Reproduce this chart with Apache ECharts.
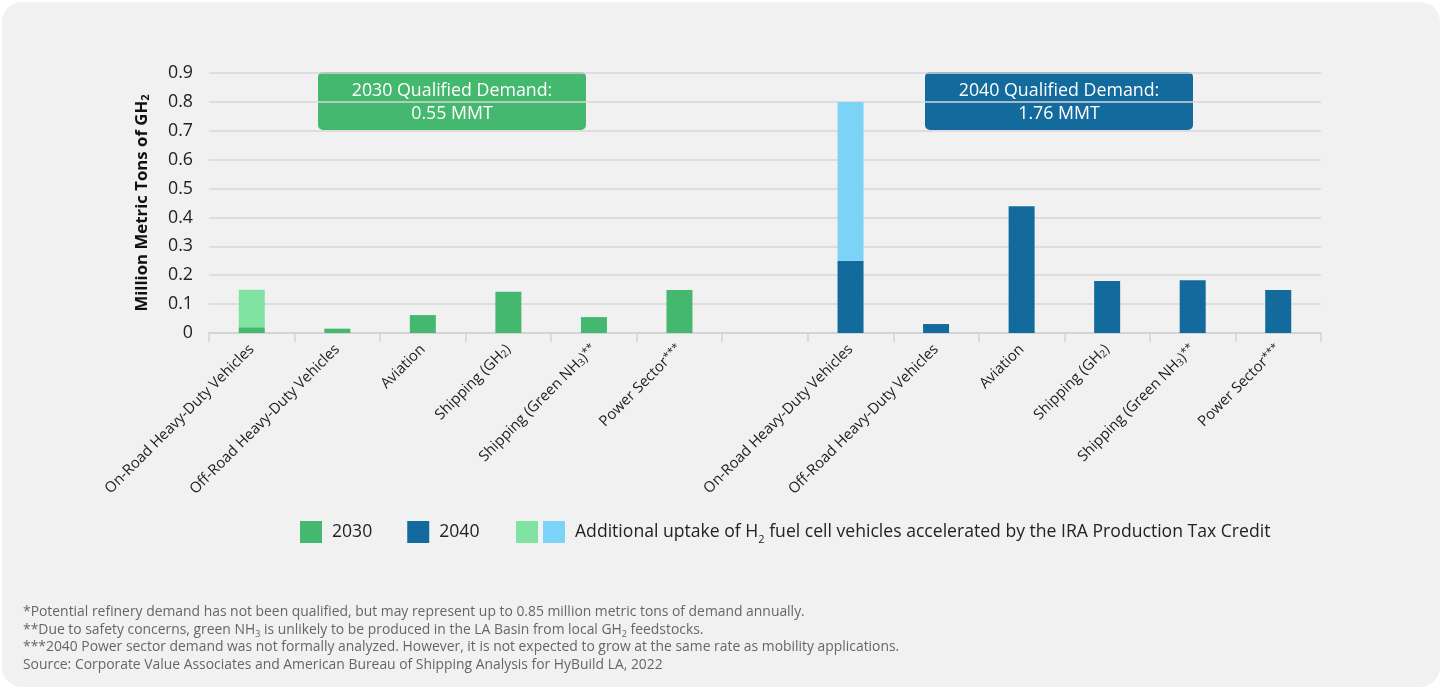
<!DOCTYPE html>
<html>
<head>
<meta charset="utf-8">
<script src="https://cdn.jsdelivr.net/npm/echarts@6/dist/echarts.min.js"></script>
<style>
html,body{margin:0;padding:0;background:#ffffff;}
#card{position:absolute;left:2px;top:2px;width:1438px;height:685px;background:#f1f1f1;border-radius:20px;}
#chart{position:absolute;left:0;top:0;width:1442px;height:689px;}
</style>
</head>
<body>
<div id="card"></div>
<div id="chart"></div>
<script>
// ---- data ----
const sectors = [
  'On-Road Heavy-Duty Vehicles',
  'Off-Road Heavy-Duty Vehicles',
  'Aviation',
  'Shipping (GH2)',
  'Shipping (Green NH3)**',
  'Power Sector***'
];
const values2030 = [0.02, 0.015, 0.062, 0.143, 0.055, 0.149];
const values2040 = [0.25, 0.031, 0.439, 0.18, 0.183, 0.149];
const ira2030 = [0.13, 0, 0, 0, 0, 0];
const ira2040 = [0.55, 0, 0, 0, 0, 0];
const yTicks = [0, 0.1, 0.2, 0.3, 0.4, 0.5, 0.6, 0.7, 0.8, 0.9];
const notes = [
  '*Potential refinery demand has not been qualified, but may represent up to 0.85 million metric tons of demand annually.',
  '**Due to safety concerns, green NH{sub|3} is unlikely to be produced in the LA Basin from local GH{sub|2} feedstocks.',
  '***2040 Power sector demand was not formally analyzed. However, it is not expected to grow at the same rate as mobility applications.',
  'Source: Corporate Value Associates and American Bureau of Shipping Analysis for HyBuild LA, 2022'
];
const box2030 = ['2030 Qualified Demand:', '0.55 MMT'];
const box2040 = ['2040 Qualified Demand:', '1.76 MMT'];
const iraLabel = 'Additional uptake of H{sub|2} fuel cell vehicles accelerated by the IRA Production Tax Credit';

// ---- build ----
const FONT = '"Open Sans", Lato, sans-serif';
const categories = sectors.concat([''], sectors);
const blanks = sectors.map(() => '-');
const nz = a => a.map(v => (v === 0 ? '-' : v));
const s2030 = values2030.concat(['-'], blanks);
const s2040 = blanks.concat(['-'], values2040);
const sIra2030 = nz(ira2030).concat(['-'], blanks);
const sIra2040 = blanks.concat(['-'], nz(ira2040));

const C2030 = '#45b86f', C2040 = '#126a9d', CL30 = '#80e3a1', CL40 = '#7dd3f7';

function fmtLabel(v) {
  return v.replace('GH2', 'GH{sub|2}')
          .replace('NH3)', 'NH{sub|3})')
          .replace('***', '{sup|***}')
          .replace(/\)\*\*$/, '){sup|**}');
}

const chart = echarts.init(document.getElementById('chart'));
const boxStyle = (x, color, lines) => ({
  type: 'group', left: x, top: 72,
  children: [
    {type: 'rect', shape: {x: 0, y: 0, width: 268, height: 58, r: 5}, style: {fill: color}},
    {type: 'text', x: 134, y: 30, style: {text: lines.join('\n'), fill: '#ffffff', font: '17.8px ' + FONT,
      textAlign: 'center', textVerticalAlign: 'middle', lineHeight: 23}}
  ]
});

chart.setOption({
  backgroundColor: 'transparent',
  textStyle: {fontFamily: FONT},
  animation: false,
  grid: {left: 209, right: 121, top: 73, bottom: 356, containLabel: false},
  legend: [
    {data: ['2030', '2040'], left: 300, top: 521, padding: 0, itemWidth: 22, itemHeight: 22, itemGap: 35, icon: 'rect',
      textStyle: {fontSize: 17.6, color: '#222', padding: [0, 0, 0, 5], fontFamily: FONT}},
    {data: ['IRA 2030'], left: 516, top: 521, padding: 0, itemWidth: 22, itemHeight: 22, icon: 'rect', formatter: () => '',
      textStyle: {fontSize: 17.6}},
    {data: ['IRA 2040'], left: 543, top: 521, padding: 0, itemWidth: 22, itemHeight: 22, icon: 'rect', formatter: () => iraLabel,
      textStyle: {fontSize: 17.6, color: '#222', padding: [0, 0, 0, 5], fontFamily: FONT,
        rich: {sub: {fontSize: 11, verticalAlign: 'bottom', padding: [0, 0, -4, 0], color: '#222', fontFamily: FONT}}}}
  ],
  xAxis: {
    type: 'category', data: categories,
    axisLine: {lineStyle: {color: '#d4d4d4', width: 2}},
    axisTick: {show: true, length: 9, lineStyle: {color: '#d4d4d4', width: 1.5}, interval: 0},
    axisLabel: {interval: 0, rotate: 45, fontSize: 14.8, color: '#222', margin: 14, fontFamily: FONT,
      formatter: fmtLabel,
      rich: {
        sub: {fontSize: 10, verticalAlign: 'bottom', color: '#222', fontFamily: FONT},
        sup: {fontSize: 11, verticalAlign: 'top', color: '#222', fontFamily: FONT}
      }}
  },
  yAxis: {
    type: 'value', min: 0, max: 0.9, interval: 0.1,
    name: 'Million Metric Tons of GH{sub|2}', nameLocation: 'middle', nameGap: 58,
    nameTextStyle: {fontSize: 16.8, fontWeight: 'bold', color: '#111', fontFamily: FONT,
      rich: {sub: {fontSize: 11, fontWeight: 'bold', color: '#111', verticalAlign: 'bottom', fontFamily: FONT}}},
    axisLine: {show: false}, axisTick: {show: false},
    splitLine: {lineStyle: {color: '#d6d6d6', width: 1.5}},
    axisLabel: {fontSize: 17.8, color: '#222', margin: 16, fontFamily: FONT,
      formatter: v => { const t = yTicks.find(k => Math.abs(k - v) < 1e-9); return t === 0 ? '0' : String(+t.toFixed(1)); }}
  },
  series: [
    {name: '2030', type: 'bar', stack: 'a', barWidth: 26, data: s2030, itemStyle: {color: C2030}},
    {name: '2040', type: 'bar', stack: 'a', barWidth: 26, data: s2040, itemStyle: {color: C2040}},
    {name: 'IRA 2030', type: 'bar', stack: 'a', barWidth: 26, data: sIra2030, itemStyle: {color: CL30}},
    {name: 'IRA 2040', type: 'bar', stack: 'a', barWidth: 26, data: sIra2040, itemStyle: {color: CL40}}
  ],
  graphic: [
    boxStyle(318, C2030, box2030),
    boxStyle(925, C2040, box2040),
    {type: 'text', left: 23, top: 603, style: {text: notes.join('\n'), fill: '#666', font: '13.9px ' + FONT, lineHeight: 17.8,
      rich: {sub: {fontSize: 9, verticalAlign: 'bottom', fill: '#666', fontFamily: FONT, lineHeight: 17.8}}}}
  ]
});
</script>
</body>
</html>
